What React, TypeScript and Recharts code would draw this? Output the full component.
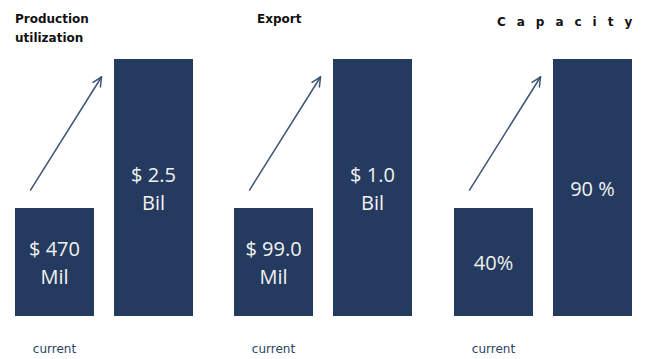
import { BarChart, Bar, XAxis, YAxis, LabelList, ReferenceLine } from 'recharts';

// panel titles and the two bars in each panel
const panelTitles = ['Production\nutilization', 'Export', 'C a p a c i t y'];
const categories = ['current', 'target'];
const tickLabels = ['current', ''];

// relative bar heights (the picture is an infographic, not to scale)
const productionHeights = [42, 100];
const exportHeights = [42, 100];
const capacityHeights = [42, 100];

// text written inside each bar, "|" splits lines
const productionTexts = ['$ 470|Mil', '$ 2.5|Bil'];
const exportTexts = ['$ 99.0|Mil', '$ 1.0|Bil'];
const capacityTexts = ['40%', '90 %'];

// arrow from just above the current bar up to the target bar
const arrowFrom = 49;
const arrowTo = 93;

const BAR_COLOR = '#243a5e';
const ARROW_COLOR = '#3d5478';

const panels = [
  { heights: productionHeights, texts: productionTexts, left: 5 },
  { heights: exportHeights, texts: exportTexts, left: 224 },
  { heights: capacityHeights, texts: capacityTexts, left: 444 },
];

const BarText = (props: any) => {
  const { x, y, width, height, value } = props;
  const lines = String(value).split('|');
  const cx = x + width / 2;
  const cy = y + height / 2;
  const lh = 28;
  const startY = cy - ((lines.length - 1) * lh) / 2;
  return (
    <text
      x={cx}
      y={startY}
      textAnchor="middle"
      dominantBaseline="central"
      fill="#f2f2f2"
      fontSize={20}
      fontFamily="'Open Sans', sans-serif"
    >
      {lines.map((l, i) => (
        <tspan key={i} x={cx} y={startY + i * lh}>
          {l}
        </tspan>
      ))}
    </text>
  );
};

const Arrow = (props: any) => {
  const { x1, y1, x2, y2 } = props;
  const sx = x1 - 24;
  const ex = x2 - 52;
  const ang = Math.atan2(y2 - y1, ex - sx);
  const len = 10;
  const a1 = ang + Math.PI - 0.45;
  const a2 = ang + Math.PI + 0.45;
  return (
    <g stroke={ARROW_COLOR} strokeWidth={1.5} fill="none" strokeLinecap="round">
      <line x1={sx} y1={y1} x2={ex} y2={y2} />
      <line x1={ex} y1={y2} x2={ex + len * Math.cos(a1)} y2={y2 + len * Math.sin(a1)} />
      <line x1={ex} y1={y2} x2={ex + len * Math.cos(a2)} y2={y2 + len * Math.sin(a2)} />
    </g>
  );
};

const titleStyle = (left: number, top: number, extra = {}) => ({
  position: 'absolute' as const,
  left,
  top,
  fontFamily: "'DejaVu Sans', sans-serif",
  fontWeight: 'bold' as const,
  fontSize: 12,
  lineHeight: '19px',
  color: '#111',
  whiteSpace: 'pre' as const,
  ...extra,
});

export default function App() {
  return (
    <div
      style={{
        position: 'absolute',
        left: 0,
        top: 0,
        width: 645,
        height: 359,
        background: '#fff',
        overflow: 'hidden',
      }}
    >
      <div style={titleStyle(15, 10)}>{panelTitles[0]}</div>
      <div style={titleStyle(257, 10)}>{panelTitles[1]}</div>
      <div style={titleStyle(497, 13, { letterSpacing: 3.4 })}>{panelTitles[2]}</div>

      {panels.map((p, i) => {
        const data = categories.map((c, k) => ({
          name: c,
          value: p.heights[k],
          text: p.texts[k],
        }));
        return (
          <div key={i} style={{ position: 'absolute', left: p.left, top: 0 }}>
            <BarChart
              width={198}
              height={359}
              data={data}
              margin={{ top: 59, right: 0, left: 0, bottom: 0 }}
              barSize={79}
            >
              <XAxis
                dataKey="name"
                height={43}
                tickLine={false}
                axisLine={false}
                tickMargin={22}
                interval={0}
                tickFormatter={(v: string) => tickLabels[categories.indexOf(v)]}
                tick={{ fill: '#2a4468', fontSize: 12, fontFamily: "'DejaVu Sans', sans-serif" }}
              />
              <YAxis hide domain={[0, 100]} />
              <Bar dataKey="value" fill={BAR_COLOR} isAnimationActive={false}>
                <LabelList dataKey="text" content={BarText} />
              </Bar>
              <ReferenceLine
                segment={[
                  { x: categories[0], y: arrowFrom },
                  { x: categories[1], y: arrowTo },
                ]}
                shape={Arrow}
              />
            </BarChart>
          </div>
        );
      })}
    </div>
  );
}
